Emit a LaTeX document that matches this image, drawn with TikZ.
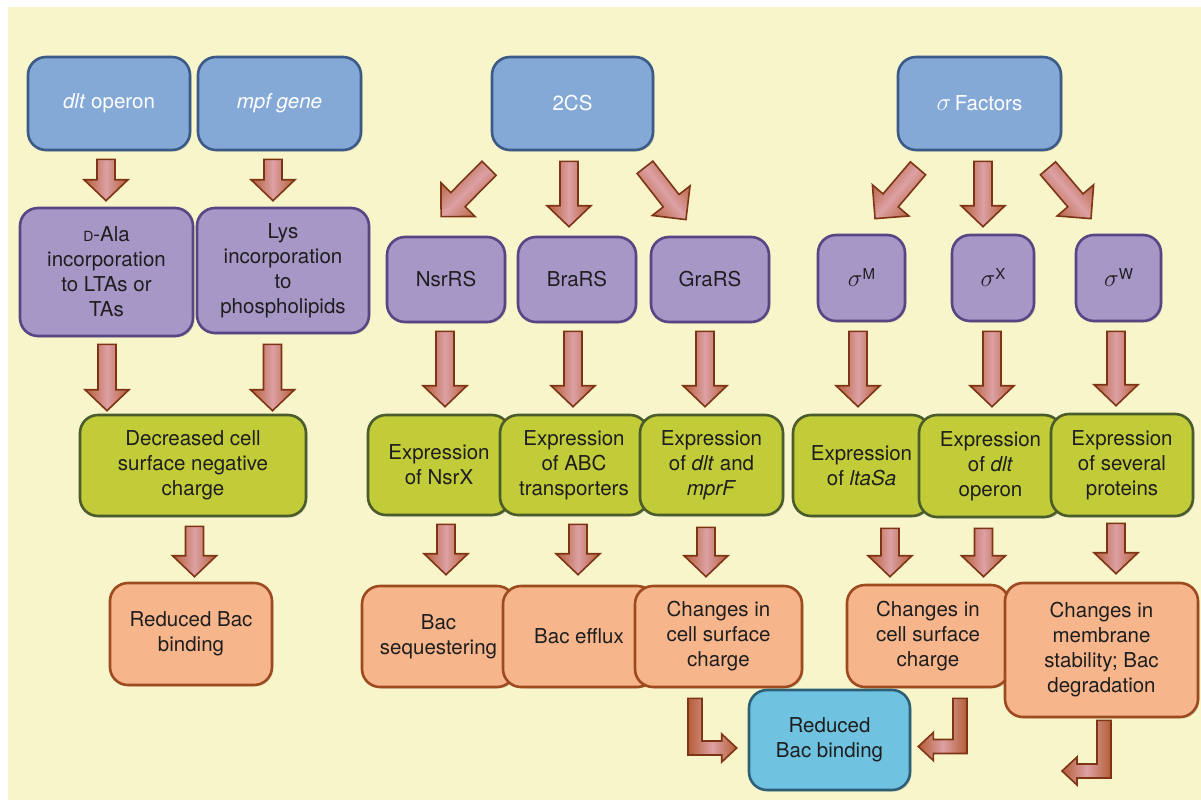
\documentclass[tikz,border=0pt]{standalone}
\usepackage{fontspec}
\setmainfont{TeX Gyre Heros}
\usetikzlibrary{calc,shadows}
\definecolor{bgy}{HTML}{F7F5C9}
\definecolor{bluef}{HTML}{84A9D7}
\definecolor{blued}{HTML}{3C5A88}
\definecolor{purf}{HTML}{A697C7}
\definecolor{purd}{HTML}{574683}
\definecolor{grnf}{HTML}{C2CB38}
\definecolor{grnd}{HTML}{4A5B2C}
\definecolor{orf}{HTML}{F7B58C}
\definecolor{ord}{HTML}{9E4A1F}
\definecolor{finf}{HTML}{6FC2E0}
\definecolor{find}{HTML}{2D6077}
\definecolor{arrd}{HTML}{7E3516}
\definecolor{arre}{HTML}{B45E36}
\definecolor{arrm}{HTML}{DDA0A4}
\definecolor{txt}{HTML}{1E1E1E}
\newcommand\mysig{{\fontsize{26}{25}\selectfont$\sigma$}}
\newcommand\mysupx[1]{\raisebox{7pt}{\fontsize{15}{15}\selectfont #1}}
\tikzset{
  box/.style={rounded corners=18pt, line width=2.6pt, align=center, inner sep=0pt,
    font=\fontsize{20.5}{25}\selectfont, text=txt,
    drop shadow={shadow xshift=1.5pt, shadow yshift=-1.5pt, opacity=0.25}},
  wh/.style 2 args={minimum width=#1pt, minimum height=#2pt},
  bluebox/.style={box, fill=bluef, draw=blued, text=white},
  purbox/.style={box, fill=purf, draw=purd},
  grnbox/.style={box, fill=grnf, draw=grnd},
  orbox/.style={box, fill=orf, draw=ord},
  finbox/.style={box, fill=finf, draw=find},
  arrowsty/.style={draw=arrd, line width=1.6pt, line join=miter,
    left color=arre, right color=arre, middle color=arrm},
}
\newcommand\barrowcore[7]{%
  \pgfmathsetmacro\BAax{#1}\pgfmathsetmacro\BAay{#2}%
  \pgfmathsetmacro\BAbx{#3}\pgfmathsetmacro\BAby{#4}%
  \pgfmathsetmacro\BAang{atan2(\BAby-\BAay,\BAbx-\BAax)}%
  \pgfmathsetmacro\BAlen{veclen(\BAbx-\BAax,\BAby-\BAay)}%
  \pgfmathsetmacro\BAsh{\BAang+180}%
  \begin{scope}[shift={(\BAax pt,\BAay pt)},rotate=\BAang]
    \draw[arrowsty, shading angle=\BAsh] (0pt,#5pt) -- ({\BAlen pt-#7pt},#5pt) -- ({\BAlen pt-#7pt},#6pt)
      -- (\BAlen pt,0pt) -- ({\BAlen pt-#7pt},-#6pt) -- ({\BAlen pt-#7pt},-#5pt) -- (0pt,-#5pt) -- cycle;
  \end{scope}}
\newcommand\vArrow[5]{%
  \path let \p1=(#1.south), \p2=(#2.north) in \pgfextra{\xdef\BVx{\x1}\xdef\BVy{\y1}\xdef\BVz{\y2}};
  \barrowcore{\BVx+#3pt}{\BVy-#4pt}{\BVx+#3pt}{\BVz+#5pt}{9}{22}{21}}
\newcommand\nArrow[2]{%
  \path let \p1=(#1), \p2=(#2) in \pgfextra{\xdef\BNa{\x1}\xdef\BNb{\y1}\xdef\BNc{\x2}\xdef\BNd{\y2}};
  \barrowcore{\BNa}{\BNb}{\BNc}{\BNd}{10}{24}{24}}
\newcommand\bentArrow[3]{%
  \draw[arrowsty] let \p1=(#1), \p2=(#2) in
  ({\x1-(#3)*7pt},\y1) -- ({\x1-(#3)*7pt},{\y2-7pt}) -- ({\x2-(#3)*15pt},{\y2-7pt})
  -- ({\x2-(#3)*15pt},{\y2-14pt}) -- (\x2,\y2) -- ({\x2-(#3)*15pt},{\y2+14pt})
  -- ({\x2-(#3)*15pt},{\y2+7pt}) -- ({\x1+(#3)*7pt},{\y2+7pt}) -- ({\x1+(#3)*7pt},\y1) -- cycle;}
\begin{document}
\begin{tikzpicture}[x=1pt,y=-1pt]
\useasboundingbox (0,0) rectangle (1201,800);
\fill[white] (0,0) rectangle (1201,800);
\fill[bgy] (8,7) rectangle (1201,800);

% top row
\node[bluebox, wh={162}{93}] (dlt) at (109,103.5) {\textit{dlt} operon};
\node[bluebox, wh={163}{93}] (mpf) at (279.5,103.5) {\textit{mpf gene}};
\node[bluebox, wh={161}{93}] (tcs) at (572.5,103.5) {2CS};
\node[bluebox, wh={163}{93}] (sig) at (979.5,103.5) {{\fontsize{23}{25}\selectfont$\sigma$}\,Factors};

% purple row
\node[purbox, wh={173}{128}] (dala) at (106.5,272) {{\fontsize{14}{14}\selectfont D}-Ala\\incorporation\\to LTAs or\\TAs};
\node[purbox, wh={172}{125}] (lys) at (283,270.5) {Lys\\incorporation\\to\\phospholipids};
\node[purbox, wh={118}{85}] (nsr) at (446,279.5) {NsrRS};
\node[purbox, wh={118}{85}] (bra) at (577,279.5) {BraRS};
\node[purbox, wh={118}{85}] (gra) at (710,279.5) {GraRS};
\node[purbox, wh={87}{86}] (sm) at (861.5,278) {\mysig\mysupx{M}};
\node[purbox, wh={82}{86}] (sx) at (993,278) {\mysig\mysupx{X}};
\node[purbox, wh={85}{86}] (sw) at (1118.5,278) {\mysig\mysupx{W}};

% green row
\node[grnbox, wh={226}{101}] (dec) at (193,465.5) {Decreased cell\\surface negative\\charge};
\node[grnbox, wh={142}{100}] (nsrx) at (439,465) {Expression\\of NsrX};
\node[grnbox, wh={148}{100}] (abc) at (574,465) {Expression\\of ABC\\transporters};
\node[grnbox, wh={143}{100}] (dltm) at (711.5,465) {Expression\\of \textit{dlt} and\\\textit{mprF}};
\node[grnbox, wh={137}{101}] (lta) at (861.5,465.5) {Expression\\of \textit{ltaSa}};
\node[grnbox, wh={143}{102}] (dlto) at (990.5,466) {Expression\\of \textit{dlt}\\operon};
\node[grnbox, wh={142}{102}] (sev) at (1122,465) {Expression\\of several\\proteins};

% orange row
\node[orbox, wh={162}{102}] (red) at (191,634) {Reduced Bac\\binding};
\node[orbox, wh={153}{101}] (seq) at (438.5,636.5) {Bac\\sequestering};
\node[orbox, wh={152}{101}] (eff) at (579,636.5) {Bac efflux};
\node[orbox, wh={167}{101}] (chg1) at (718.5,636.5) {Changes in\\cell surface\\charge};
\node[orbox, wh={162}{102}] (chg2) at (928,636) {Changes in\\cell surface\\charge};
\node[orbox, wh={193}{134}] (mem) at (1101.5,650) {Changes in\\membrane\\stability; Bac\\degradation};

% final
\node[finbox, wh={161}{100}] (fin) at (829.5,740) {Reduced\\Bac binding};
\coordinate (memend) at (1062,771);

% arrows: top to purple
\vArrow{dlt}{dala}{-3}{8}{6}
\vArrow{mpf}{lys}{-6.5}{8}{6}
\vArrow{tcs}{bra}{-3.5}{10}{9}
\vArrow{sig}{sx}{3.5}{10}{7}
\nArrow{$(tcs.south)+(-83.5,17)$}{$(nsr.north)+(-5,-19)$}
\nArrow{$(tcs.south)+(72.5,16)$}{$(gra.north)+(-24,-16)$}
\nArrow{$(sig.south)+(-61.5,17)$}{$(sm.north)+(13.5,-15)$}
\nArrow{$(sig.south)+(68.5,17)$}{$(sw.north)+(-27.5,-15)$}

% purple to green
\vArrow{dala}{dec}{0.5}{7}{3}
\vArrow{lys}{dec}{-10.5}{10}{3}
\vArrow{nsr}{nsrx}{-1}{8}{7}
\vArrow{bra}{abc}{-4}{8}{7}
\vArrow{gra}{dltm}{-5}{8}{7}
\vArrow{sm}{lta}{-3.5}{9}{7}
\vArrow{sx}{dlto}{-1}{9}{7}
\vArrow{sw}{sev}{-2.5}{9}{7}

% green to orange
\vArrow{dec}{red}{1.5}{9}{5}
\vArrow{nsrx}{seq}{7}{8}{10}
\vArrow{abc}{eff}{4}{8}{10}
\vArrow{dltm}{chg1}{-5.5}{11}{8}
\vArrow{lta}{chg2}{28.5}{11}{7}
\vArrow{dlto}{chg2}{-7}{10}{7}
\vArrow{sev}{mem}{-6}{6}{8}

% bent arrows
\bentArrow{$(chg1.south)+(-23.5,10)$}{$(fin.west)+(-11,8)$}{1}
\bentArrow{$(chg2.south)+(32,10)$}{$(fin.east)+(7,6.5)$}{-1}
\bentArrow{$(mem.south)+(2.5,2)$}{memend}{-1}
\end{tikzpicture}
\end{document}
